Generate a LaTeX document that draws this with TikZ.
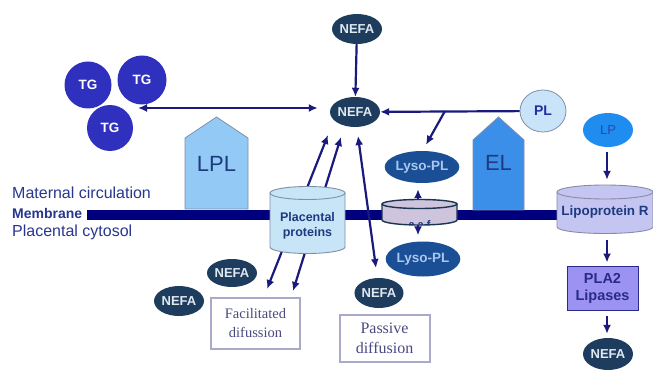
\documentclass[tikz,border=0pt]{standalone}
\usepackage{fontspec}
\setmainfont{Liberation Sans}
\newfontfamily\serifx{Liberation Serif}
\usetikzlibrary{shapes.geometric,arrows.meta}
\definecolor{navy}{HTML}{1A1A7E}
\definecolor{nefafill}{HTML}{1E3D5E}
\definecolor{nefatext}{HTML}{E0E8F0}
\definecolor{tgfill}{HTML}{2F30BE}
\definecolor{lysofill}{HTML}{1A4E95}
\definecolor{lysotext}{HTML}{A8C8F0}
\definecolor{lpfill}{HTML}{1F8CF0}
\definecolor{lptext}{HTML}{2A48B0}
\definecolor{plfill}{HTML}{C9E3F8}
\definecolor{grayborder}{HTML}{7F8FA8}
\definecolor{pltext}{HTML}{2030A0}
\definecolor{lplfill}{HTML}{92C9F5}
\definecolor{elfill}{HTML}{3C8FE8}
\definecolor{darktext}{HTML}{1E3A80}
\definecolor{membr}{HTML}{00007E}
\definecolor{ppfill}{HTML}{C8E5F7}
\definecolor{smallfill}{HTML}{CFC4DD}
\definecolor{smallborder}{HTML}{1C3450}
\definecolor{lrfill}{HTML}{C5C5F2}
\definecolor{lrborder}{HTML}{8A8AA8}
\definecolor{plafill}{HTML}{9B92F2}
\definecolor{plaborder}{HTML}{2A2A8A}
\definecolor{diffborder}{HTML}{A9A9C9}
\definecolor{difftext}{HTML}{4A4A80}
\definecolor{labeltext}{HTML}{27378F}
\begin{document}
\begin{tikzpicture}[x=1pt,y=-1pt,
  ell/.style={ellipse, inner sep=0pt},
  nefa/.style={ell, fill=nefafill, text=nefatext, font=\fontsize{13}{13}\selectfont\bfseries, minimum width=50pt, minimum height=30pt},
  tg/.style={circle, inner sep=0pt, fill=tgfill, text=white, font=\fontsize{13.5}{13.5}\selectfont\bfseries},
  lyso/.style={ell, fill=lysofill, text=lysotext, font=\fontsize{13.5}{13.5}\selectfont\bfseries, minimum width=72pt, minimum height=34pt},
  arr/.style={draw=navy, line width=2.2pt, -{Latex[length=9pt,width=8pt]}},
  darr/.style={draw=navy, line width=2.2pt, {Latex[length=9pt,width=8pt]}-{Latex[length=9pt,width=8pt]}},
  diffbox/.style={rectangle, draw=diffborder, line width=2pt, fill=white, text=difftext, align=center, font=\serifx\fontsize{14.5}{19}\selectfont},
  sidelabel/.style={anchor=west, text=labeltext, inner sep=0pt, font=\fontsize{16}{16}\selectfont},
  bigtext/.style={text=darktext, font=\fontsize{22}{22}\selectfont},
  cyltext/.style={text=darktext, align=center, font=\fontsize{12.5}{15}\selectfont\bfseries}
]
\useasboundingbox (0,0) rectangle (653,374);
\fill[white] (0,0) rectangle (653,374);

% membrane bar
\fill[membr] (87,210) rectangle (560,220);

% side labels
\node[sidelabel] (matc) at (12,193) {Maternal circulation};
\node[sidelabel, font=\fontsize{14}{14}\selectfont\bfseries] (memb) at (12,213.5) {Membrane};
\node[sidelabel] (pcyt) at (12,232) {Placental cytosol};

% main nodes
\node[nefa] (n1) at (357,29) {NEFA};
\node[nefa] (n2) at (355,112) {NEFA};
\node[nefa, minimum height=28pt] (nA) at (232,273) {NEFA};
\node[nefa] (nB) at (179,301) {NEFA};
\node[nefa, minimum width=48pt] (nP) at (379,293) {NEFA};
\node[nefa, minimum height=32pt] (nR) at (608,354) {NEFA};

\node[tg, minimum size=47pt] (t1) at (88,85) {TG};
\node[tg, minimum size=49pt] (t2) at (142,80) {TG};
\node[tg, minimum size=46pt] (t3) at (110,128) {TG};

\node[ell, fill=plfill, draw=grayborder, line width=0.8pt, text=pltext, font=\fontsize{14}{14}\selectfont\bfseries, minimum width=46pt, minimum height=42pt] (PL) at (543,111) {PL};
\node[ell, fill=lpfill, text=lptext, font=\fontsize{13}{13}\selectfont, minimum width=50pt, minimum height=34pt] (LP) at (608,130) {LP};

% arrows behind placental proteins and the small transporter
\coordinate (ppa1) at (267,289);
\coordinate (ppa2) at (328,135);
\coordinate (ppb1) at (293,291);
\coordinate (ppb2) at (341,137);
\draw[darr] (ppa1) -- (ppa2);
\draw[darr] (ppb1) -- (ppb2);

\node[lyso, minimum width=71pt, minimum height=32pt] (lysoU) at (422,167) {Lyso-PL};
\node[lyso, minimum height=35pt] (lysoL) at (423,259) {Lyso-PL};
\draw[darr] ([xshift=-4pt,yshift=-6pt]lysoU.south) -- ([xshift=-5pt,yshift=6pt]lysoL.north);

% pentagons
\node[inner sep=0pt, minimum width=63pt, minimum height=93pt] (LPLb) at (216.5,163.5) {};
\draw[fill=lplfill, draw=grayborder, line width=0.8pt] (185,209) -- (185,138) -- (216.5,117) -- (248,138) -- (248,209) -- cycle;
\node[bigtext] (LPL) at (216.5,164) {LPL};
\node[inner sep=0pt, minimum width=51pt, minimum height=93pt] (ELb) at (498.5,163.5) {};
\draw[fill=elfill, draw=grayborder, line width=0.8pt] (473,210) -- (473,140) -- (498.5,117) -- (524,140) -- (524,210) -- cycle;
\node[bigtext] (EL) at (498.5,163) {EL};

% placental proteins cylinder
\draw[fill=ppfill, draw=grayborder, line width=0.9pt] (270,193) -- (270,247) arc (180:0:37.5 and 6.5) -- (345,193);
\draw[fill=ppfill, draw=grayborder, line width=0.9pt] (307.5,193) ellipse (37.5 and 6.5);
\node[cyltext] (pp) at (307.5,226) {Placental\\proteins};

% small transporter cylinder
\draw[fill=smallfill, draw=smallborder, line width=1.4pt] (382,204) -- (382,220) arc (180:0:37.5 and 5) -- (457,204);
\begin{scope}
  \clip (382,204) -- (382,220) arc (180:0:37.5 and 5) -- (457,204) -- cycle;
  \node[text=darktext, font=\fontsize{11}{11}\selectfont\bfseries] (tr) at (419.5,224.5) {a a f};
\end{scope}
\draw[fill=smallfill, draw=smallborder, line width=1.4pt] (419.5,204) ellipse (37.5 and 4.5);

% lipoprotein receptor cylinder
\draw[fill=lrfill, draw=lrborder, line width=0.9pt] (557,192) -- (557,227) arc (180:0:48 and 6.5) -- (653,192);
\draw[fill=lrfill, draw=lrborder, line width=0.9pt] (605,192) ellipse (48 and 7);
\node[cyltext, font=\fontsize{13.4}{13.4}\selectfont\bfseries] (LipR) at (605,212) {Lipoprotein R};
\node[inner sep=0pt, minimum width=96pt, minimum height=48pt] (LipRb) at (605,209) {};

% PLA2 box
\node[rectangle, draw=plaborder, line width=1pt, fill=plafill, text=plaborder, align=center, font=\fontsize{14.5}{17}\selectfont\bfseries, minimum width=71pt, minimum height=44pt] (PLA) at (602.5,288) {PLA2\\Lipases};

% diffusion boxes
\node[diffbox, minimum width=89pt, minimum height=51pt] (fac) at (255.5,323.5) {Facilitated\\difussion};
\node[diffbox, font=\serifx\fontsize{16}{20}\selectfont, minimum width=90pt, minimum height=47pt] (pas) at (384.5,338.5) {Passive\\diffusion};

% connectors
\draw[arr] (n1) -- (n2);
\draw[arr] (PL) -- (n2);
\coordinate (br) at (445,111);
\draw[arr] (br) -- ([xshift=4pt,yshift=6pt]lysoU.north);
\coordinate (tgE) at (138,108);
\draw[darr] (tgE) -- ([xshift=-12pt]tgE -| n2.west);
\coordinate (lg1) at (358,136);
\coordinate (lg2) at (376,268);
\draw[darr] (lg1) -- (lg2);
\draw[arr] ([xshift=-1pt,yshift=-5pt]LP.south) -- ([xshift=-1pt,yshift=5pt]LP.south |- LipRb.north);
\draw[arr] ([xshift=2pt,yshift=-7pt]LipRb.south) -- ([xshift=4.5pt,yshift=3pt]PLA.north);
\draw[arr] ([xshift=4.5pt,yshift=-5pt]PLA.south) -- ([xshift=-1pt,yshift=4pt]nR.north);
\end{tikzpicture}
\end{document}
